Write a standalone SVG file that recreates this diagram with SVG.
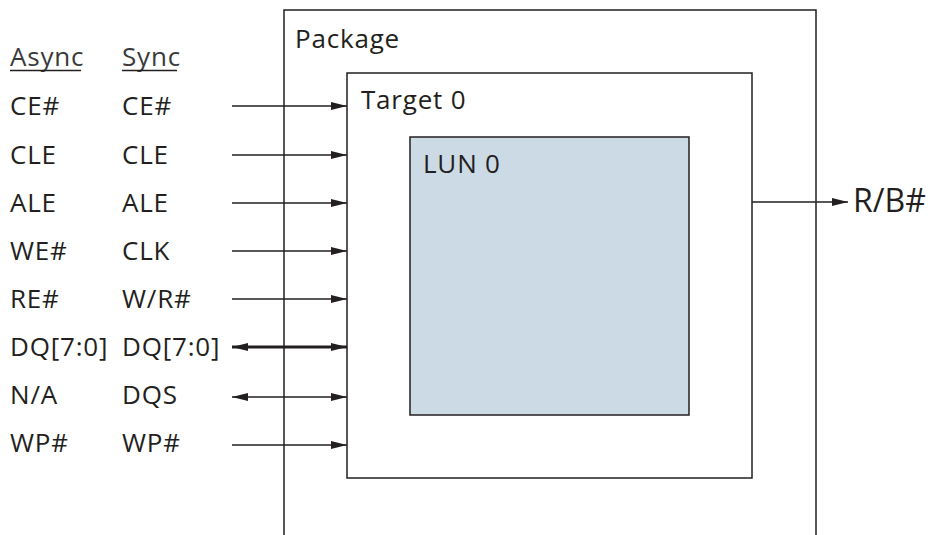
<svg xmlns="http://www.w3.org/2000/svg" width="933" height="535" viewBox="0 0 933 535">
<style>
text{font-family:"Open Sans","Noto Sans","Liberation Sans",sans-serif;font-size:26px;letter-spacing:0.8px;fill:#231f20}
.box{fill:#fff;stroke:#231f20;stroke-width:1.5}
.lun{fill:#cbdae5;stroke:#231f20;stroke-width:1.5}
.ln{stroke:#231f20;stroke-width:1.5;fill:none}
.thick{stroke:#231f20;stroke-width:3;fill:none}
.hd{fill:#3a3a3a}
</style>
<defs>
<marker id="ah" viewBox="0 0 16 8" refX="16" refY="4" markerWidth="16" markerHeight="8" markerUnits="userSpaceOnUse" orient="auto-start-reverse">
<path d="M0,0 L16,4 L0,8 z" fill="#231f20"/>
</marker>
</defs>
<g id="package">
<path class="box" d="M284,535 V10 H816 V535"/>
<text x="295" y="48">Package</text>
</g>
<g id="target0">
<rect class="box" x="347" y="73" width="405" height="405"/>
<text x="361" y="109">Target 0</text>
</g>
<g id="lun0">
<rect class="lun" x="410" y="137" width="279" height="278"/>
<text x="423" y="173">LUN 0</text>
</g>
<g id="labels">
<text x="10" y="66" class="hd">Async</text>
<text x="122" y="66" class="hd">Sync</text>
<line class="ln" x1="10" y1="70.5" x2="81" y2="70.5" stroke-width="1"/>
<line class="ln" x1="122" y1="70.5" x2="177" y2="70.5" stroke-width="1"/>
<text x="10" y="115">CE#</text><text x="122" y="115">CE#</text>
<text x="10" y="164">CLE</text><text x="122" y="164">CLE</text>
<text x="10" y="212">ALE</text><text x="122" y="212">ALE</text>
<text x="10" y="260">WE#</text><text x="122" y="260">CLK</text>
<text x="10" y="308">RE#</text><text x="122" y="308">W/R#</text>
<text x="10" y="356">DQ[7:0]</text><text x="122" y="356">DQ[7:0]</text>
<text x="10" y="404">N/A</text><text x="122" y="404">DQS</text>
<text x="10" y="452">WP#</text><text x="122" y="452">WP#</text>
<text x="853" y="212" style="font-size:32px;letter-spacing:0">R/B#</text>
</g>
<g id="connectors">
<line class="ln" x1="232" y1="106" x2="347" y2="106" marker-end="url(#ah)"/>
<line class="ln" x1="232" y1="155" x2="347" y2="155" marker-end="url(#ah)"/>
<line class="ln" x1="232" y1="203" x2="347" y2="203" marker-end="url(#ah)"/>
<line class="ln" x1="232" y1="251" x2="347" y2="251" marker-end="url(#ah)"/>
<line class="ln" x1="232" y1="299" x2="347" y2="299" marker-end="url(#ah)"/>
<line class="thick" x1="232" y1="347" x2="347" y2="347" marker-start="url(#ah)" marker-end="url(#ah)"/>
<line class="ln" x1="232" y1="397" x2="347" y2="397" marker-start="url(#ah)" marker-end="url(#ah)"/>
<line class="ln" x1="232" y1="445" x2="347" y2="445" marker-end="url(#ah)"/>
<line class="ln" x1="752" y1="202" x2="848" y2="202" marker-end="url(#ah)"/>
</g>
</svg>
